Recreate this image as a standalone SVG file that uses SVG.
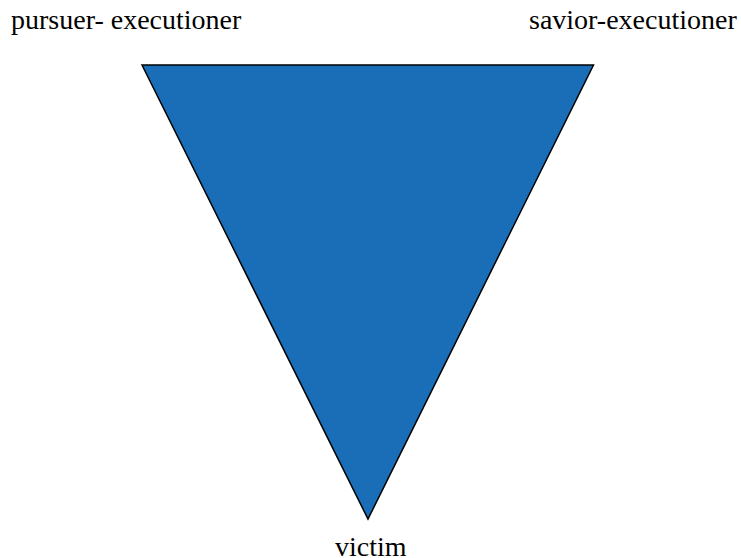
<svg xmlns="http://www.w3.org/2000/svg" width="741" height="558" viewBox="0 0 741 558">
<style>
text{font-family:'Liberation Serif','Times New Roman',serif;font-size:28px;fill:#000}
</style>
<rect width="741" height="558" fill="#fff"/>
<g id="triangle">
<polygon points="142,65 593.5,65 368,519" fill="#1a6eb7" stroke="#000" stroke-width="1.5" stroke-linejoin="miter"/>
</g>
<g id="label-pursuer"><text x="11" y="29">pursuer- executioner</text></g>
<g id="label-savior"><text x="529" y="29">savior-executioner</text></g>
<g id="label-victim"><text x="335" y="556">victim</text></g>
<g id="connectors"></g>
</svg>
